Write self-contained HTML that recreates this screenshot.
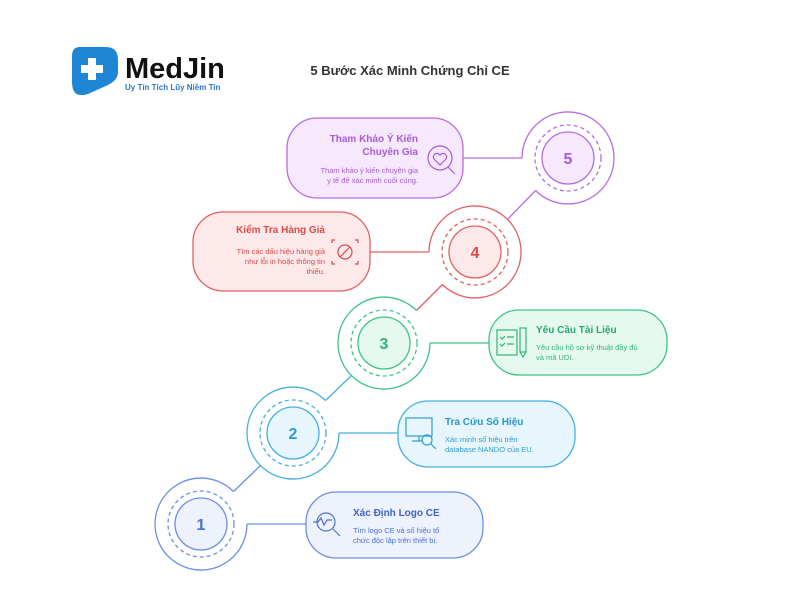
<!DOCTYPE html>
<html><head><meta charset="utf-8"><style>
html,body{margin:0;padding:0;background:#fff;width:800px;height:600px;overflow:hidden}
svg{display:block}
text{font-family:"Liberation Sans",Arial,sans-serif}
</style></head><body>
<svg width="800" height="600" viewBox="0 0 800 600" xmlns="http://www.w3.org/2000/svg">
<!-- logo -->
<path d="M80 47 H106 Q118 47 118 60 V72 Q118 80 108 85 L88 94 Q72 99 72 82 V56 Q72 47 80 47 Z" fill="#1f86d6"/>
<path d="M88 58 h8 v7 h7 v8 h-7 v7 h-8 v-7 h-7 v-8 h7 z" fill="#fff"/>
<text x="125" y="78" font-size="29" font-weight="bold" fill="#111">MedJin</text>
<text x="125" y="90" font-size="8" font-weight="bold" fill="#2a78c8">Uy Tín Tích Lũy Niềm Tin</text>
<text x="410" y="75" font-size="13" font-weight="bold" fill="#333" text-anchor="middle">5 Bước Xác Minh Chứng Chỉ CE</text>

<g stroke-width="1.3" fill="none">
<line x1="233.5" y1="491.5" x2="260.5" y2="465.5" stroke="#6b8ee6"/>
<line x1="325.5" y1="400.5" x2="351.5" y2="375.5" stroke="#45afe0"/>
<line x1="416.5" y1="310.5" x2="442.5" y2="284.5" stroke="#e36060"/>
<line x1="507.5" y1="219.5" x2="535.5" y2="190.5" stroke="#b66de3"/>
</g>

<!-- step 1 -->
<g stroke="#6b8ee6" stroke-width="1.3">
<path d="M247 524 A46 46 0 1 1 233.5 491.5" fill="none"/>
<circle cx="201" cy="524" r="33" fill="none" stroke-dasharray="4 3"/>
<circle cx="201" cy="524" r="26" fill="#eef2fd"/>
<line x1="247" y1="524" x2="306" y2="524"/>
<rect x="306" y="492" width="177" height="66" rx="30" fill="#eef2fd"/>
</g>
<text x="201" y="530" font-size="16" font-weight="bold" fill="#4a6fd0" text-anchor="middle">1</text>
<g stroke="#4a6fd0" stroke-width="1.2" fill="none"><circle cx="326" cy="522" r="9"/><line x1="333" y1="529" x2="340" y2="536"/><path d="M313 522 h5 l3 -4 3 7 3 -5 h5"/></g>
<text x="353" y="516" font-size="10" font-weight="bold" fill="#3f63c6">Xác Định Logo CE</text>
<text x="353" y="533" font-size="7.5" fill="#4a6fd0">Tìm logo CE và số hiệu tổ</text>
<text x="353" y="543" font-size="7.5" fill="#4a6fd0">chức độc lập trên thiết bị.</text>

<!-- step 2 -->
<g stroke="#45afe0" stroke-width="1.3">
<path d="M339 433 A46 46 0 1 1 325.5 400.5" fill="none"/>
<circle cx="293" cy="433" r="33" fill="none" stroke-dasharray="4 3"/>
<circle cx="293" cy="433" r="26" fill="#e6f6fc"/>
<line x1="339" y1="433" x2="398" y2="433"/>
<rect x="398" y="401" width="177" height="66" rx="30" fill="#e6f6fc"/>
</g>
<text x="293" y="439" font-size="16" font-weight="bold" fill="#2f9bd0" text-anchor="middle">2</text>
<g stroke="#2f9bd0" stroke-width="1.2" fill="none"><rect x="406" y="418" width="26" height="18"/><line x1="419" y1="436" x2="419" y2="441"/><line x1="412" y1="441" x2="422" y2="441"/><circle cx="427" cy="440" r="5"/><line x1="431" y1="444" x2="436" y2="449"/></g>
<text x="445" y="425" font-size="10" font-weight="bold" fill="#2a95cb">Tra Cứu Số Hiệu</text>
<text x="445" y="442" font-size="7.5" fill="#2f9bd0">Xác minh số hiệu trên</text>
<text x="445" y="452" font-size="7.5" fill="#2f9bd0">database NANDO của EU.</text>

<!-- step 3 -->
<g stroke="#3cc486" stroke-width="1.3">
<path d="M430 343 A46 46 0 1 1 416.5 310.5" fill="none"/>
<circle cx="384" cy="343" r="33" fill="none" stroke-dasharray="4 3"/>
<circle cx="384" cy="343" r="26" fill="#e6f9ef"/>
<line x1="430" y1="343" x2="489" y2="343"/>
<rect x="489" y="310" width="178" height="65" rx="30" fill="#e6f9ef"/>
</g>
<text x="384" y="349" font-size="16" font-weight="bold" fill="#2fb577" text-anchor="middle">3</text>
<g stroke="#2fb577" stroke-width="1.2" fill="none"><rect x="497" y="330" width="20" height="25"/><path d="M500 337 l2 2 3 -3 M507 337 h7 M500 344 l2 2 3 -3 M507 344 h7"/><rect x="520" y="328" width="6" height="24"/><path d="M520 352 l3 5 3 -5"/></g>
<text x="536" y="333" font-size="10" font-weight="bold" fill="#27a86c">Yêu Cầu Tài Liệu</text>
<text x="536" y="350" font-size="7.5" fill="#2fb577">Yêu cầu hồ sơ kỹ thuật đầy đủ</text>
<text x="536" y="360" font-size="7.5" fill="#2fb577">và mã UDI.</text>

<!-- step 4 -->
<g stroke="#e36060" stroke-width="1.3">
<path d="M429 252 A46 46 0 1 1 442.5 284.5" fill="none"/>
<circle cx="475" cy="252" r="33" fill="none" stroke-dasharray="4 3"/>
<circle cx="475" cy="252" r="26" fill="#fde9e9"/>
<line x1="370" y1="252" x2="429" y2="252"/>
<rect x="193" y="212" width="177" height="79" rx="30" fill="#fde9e9"/>
</g>
<text x="475" y="258" font-size="16" font-weight="bold" fill="#d94c4c" text-anchor="middle">4</text>
<g stroke="#d94c4c" stroke-width="1.2" fill="none"><circle cx="345" cy="252" r="7"/><line x1="340" y1="257" x2="350" y2="247"/><path d="M332 243 v-3 h3 M355 240 h3 v3 M358 261 v3 h-3 M335 264 h-3 v-3"/></g>
<text x="325" y="233" font-size="10" font-weight="bold" fill="#d94c4c" text-anchor="end">Kiểm Tra Hàng Giả</text>
<text x="325" y="254" font-size="7.5" fill="#d94c4c" text-anchor="end">Tìm các dấu hiệu hàng giả</text>
<text x="325" y="264" font-size="7.5" fill="#d94c4c" text-anchor="end">như lỗi in hoặc thông tin</text>
<text x="325" y="274" font-size="7.5" fill="#d94c4c" text-anchor="end">thiếu.</text>

<!-- step 5 -->
<g stroke="#b66de3" stroke-width="1.3">
<path d="M522 158 A46 46 0 1 1 535.5 190.5" fill="none"/>
<circle cx="568" cy="158" r="33" fill="none" stroke-dasharray="4 3"/>
<circle cx="568" cy="158" r="26" fill="#f6e9fd"/>
<line x1="463" y1="158" x2="522" y2="158"/>
<rect x="287" y="118" width="176" height="80" rx="30" fill="#f6e9fd"/>
</g>
<text x="568" y="164" font-size="16" font-weight="bold" fill="#a95ad8" text-anchor="middle">5</text>
<g stroke="#a95ad8" stroke-width="1.2" fill="none"><circle cx="440" cy="158" r="12"/><line x1="448" y1="167" x2="455" y2="174"/><path d="M440 165 l-6 -6 a3 3 0 0 1 6 -4 a3 3 0 0 1 6 4 z"/></g>
<text x="418" y="142" font-size="10" font-weight="bold" fill="#a95ad8" text-anchor="end">Tham Khảo Ý Kiến</text>
<text x="418" y="155" font-size="10" font-weight="bold" fill="#a95ad8" text-anchor="end">Chuyên Gia</text>
<text x="418" y="173" font-size="7.5" fill="#a95ad8" text-anchor="end">Tham khảo ý kiến chuyên gia</text>
<text x="418" y="183" font-size="7.5" fill="#a95ad8" text-anchor="end">y tế để xác minh cuối cùng.</text>
</svg>
</body></html>
